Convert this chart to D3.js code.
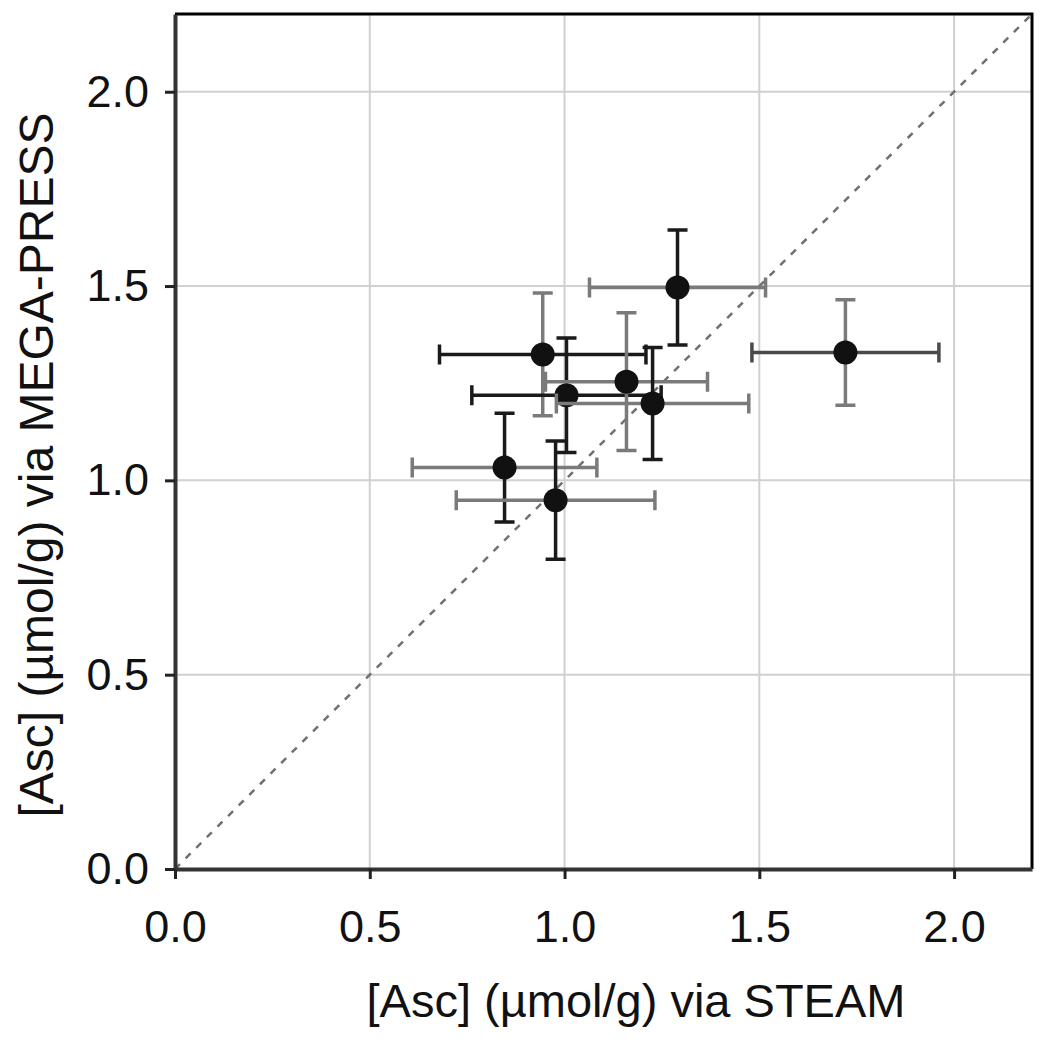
<!DOCTYPE html>
<html>
<head>
<meta charset="utf-8">
<script src="https://cdn.jsdelivr.net/npm/d3@7"></script>
<style>
  body { margin: 0; background: #fff; }
  .tick text { font-family: "Liberation Sans", Arial, sans-serif; }
</style>
</head>
<body>
<div class="visHolder"></div>
<script>
const width = 1050;
const height = 1042;

// values: STEAM (x) vs MEGA-PRESS (y), with SD
const steam    = [1.290, 0.944, 1.005, 1.159, 1.226, 0.846, 0.977, 1.721];
const steamErr = [0.226, 0.265, 0.243, 0.208, 0.247, 0.237, 0.255, 0.240];
const mega     = [1.496, 1.324, 1.219, 1.254, 1.198, 1.033, 0.949, 1.329];
const megaErr  = [0.148, 0.158, 0.147, 0.177, 0.144, 0.140, 0.152, 0.136];
// bar shades per point (horizontal, vertical)
const hShade = ["#7a7a7a", "#1a1a1a", "#1a1a1a", "#7a7a7a", "#7a7a7a", "#7a7a7a", "#7a7a7a", "#4a4a4a"];
const vShade = ["#1a1a1a", "#7a7a7a", "#1a1a1a", "#7a7a7a", "#1a1a1a", "#1a1a1a", "#1a1a1a", "#7a7a7a"];
const ticks = [0, 0.5, 1.0, 1.5, 2.0];

const pL = 175, pT = 14, pR = 1032, pB = 869;

const svg = d3.select(".visHolder")
  .append("svg")
  .attr("width", width)
  .attr("height", height);

const xScale = d3.scaleLinear().domain([0, 2.2]).range([pL, pR]);
const yScale = d3.scaleLinear().domain([0, 2.2]).range([pB, pT]);

// grid
svg.append("g").selectAll("line").data(ticks.slice(1)).enter()
  .append("line")
  .attr("x1", d => xScale(d)).attr("x2", d => xScale(d))
  .attr("y1", pT).attr("y2", pB)
  .style("stroke", "#d0d0d0").style("stroke-width", 2);
svg.append("g").selectAll("line").data(ticks.slice(1)).enter()
  .append("line")
  .attr("y1", d => yScale(d)).attr("y2", d => yScale(d))
  .attr("x1", pL).attr("x2", pR)
  .style("stroke", "#d0d0d0").style("stroke-width", 2);

// identity line
svg.append("line")
  .attr("x1", xScale(0)).attr("y1", yScale(0))
  .attr("x2", xScale(2.2)).attr("y2", yScale(2.2))
  .style("stroke", "#707070")
  .style("stroke-width", 2.5)
  .style("stroke-dasharray", "7,8");

// frame top/right
svg.append("path")
  .attr("d", `M${pL},${pT}H${pR}V${pB}`)
  .style("fill", "none").style("stroke", "#000").style("stroke-width", 3);

// axes
const xAxis = d3.axisBottom(xScale).tickValues(ticks).tickFormat(d3.format(".1f"))
  .tickSize(10).tickSizeOuter(0).tickPadding(31);
const yAxis = d3.axisLeft(yScale).tickValues(ticks).tickFormat(d3.format(".1f"))
  .tickSize(10).tickSizeOuter(0).tickPadding(16);

const gx = svg.append("g").attr("transform", `translate(0,${pB})`).call(xAxis);
const gy = svg.append("g").attr("transform", `translate(${pL},0)`).call(yAxis);
[gx, gy].forEach(g => {
  g.select(".domain").style("stroke", "#333").style("stroke-width", 4);
  g.selectAll(".tick line").style("stroke", "#222").style("stroke-width", 3);
  g.selectAll(".tick text").style("font-size", "45px").style("fill", "#111");
});

// error bars
const cap = 10;
const pts = svg.append("g").selectAll("g").data(steam).enter().append("g");

pts.append("path")
  .attr("d", (d, i) => {
    const x0 = xScale(d - steamErr[i]), x1 = xScale(d + steamErr[i]), y = yScale(mega[i]);
    return `M${x0},${y}H${x1}M${x0},${y - cap}V${y + cap}M${x1},${y - cap}V${y + cap}`;
  })
  .style("fill", "none")
  .style("stroke", (d, i) => hShade[i])
  .style("stroke-width", 3.5);

pts.append("path")
  .attr("d", (d, i) => {
    const y0 = yScale(mega[i] - megaErr[i]), y1 = yScale(mega[i] + megaErr[i]), x = xScale(d);
    return `M${x},${y0}V${y1}M${x - cap},${y0}H${x + cap}M${x - cap},${y1}H${x + cap}`;
  })
  .style("fill", "none")
  .style("stroke", (d, i) => vShade[i])
  .style("stroke-width", 3.5);

pts.append("circle")
  .attr("cx", d => xScale(d))
  .attr("cy", (d, i) => yScale(mega[i]))
  .attr("r", 12)
  .style("fill", "#111");

// axis titles
svg.append("text")
  .attr("x", 636)
  .attr("y", 1017)
  .attr("text-anchor", "middle")
  .style("font-family", "Liberation Sans, Arial, sans-serif")
  .style("font-size", "47px")
  .style("fill", "#111")
  .text("[Asc] (\u00b5mol/g) via STEAM");

svg.append("text")
  .attr("transform", "translate(53,465) rotate(-90)")
  .attr("text-anchor", "middle")
  .style("font-family", "Liberation Sans, Arial, sans-serif")
  .style("font-size", "48px")
  .style("fill", "#111")
  .text("[Asc] (\u00b5mol/g) via MEGA-PRESS");
</script>
</body>
</html>
